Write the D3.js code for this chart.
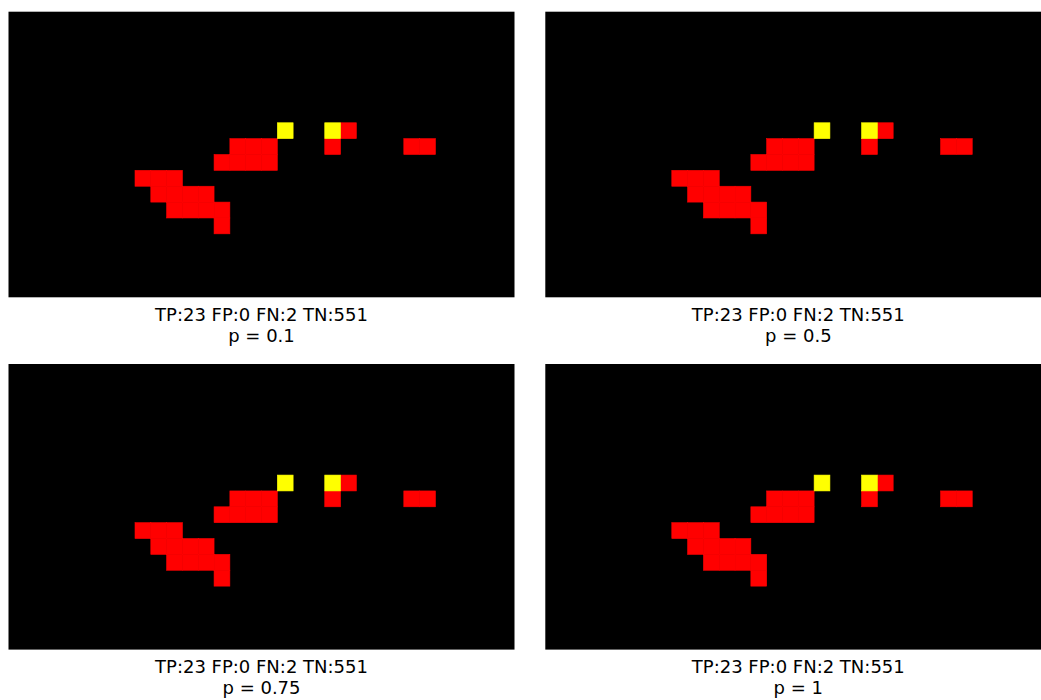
<!DOCTYPE html>
<html>
<head>
<meta charset="utf-8">
<script src="https://cdn.jsdelivr.net/npm/d3@7"></script>
<style>
  html, body { margin: 0; padding: 0; background: #ffffff; overflow: hidden; }
  svg { display: block; }
</style>
</head>
<body>
<script>
// ---- data ----
const nRows = 18;
const nCols = 32;
// true positives (red): [row, col]
const tpCells = [
  [7, 21],
  [8, 14], [8, 15], [8, 16], [8, 20], [8, 25], [8, 26],
  [9, 13], [9, 14], [9, 15], [9, 16],
  [10, 8], [10, 9], [10, 10],
  [11, 9], [11, 10], [11, 11], [11, 12],
  [12, 10], [12, 11], [12, 12], [12, 13],
  [13, 13]
];
// false negatives (yellow)
const fnCells = [[7, 17], [7, 20]];
// false positives (none)
const fpCells = [];
const pLabels = ["p = 0.1", "p = 0.5", "p = 0.75", "p = 1"];
const countsTP = [23, 23, 23, 23];
const countsFP = [0, 0, 0, 0];
const countsFN = [2, 2, 2, 2];
const countsTN = [551, 551, 551, 551];

const classColors = { TN: "#000000", TP: "#ff0000", FN: "#ffff00", FP: "#0000ff" };

// ---- layout ----
const W = 1041, H = 700;
const panelW = 506, panelH = 285.6;
const colX = [8.5, 545.3];
const rowY = [11.7, 364];

const svg = d3.select("body").append("svg").attr("width", W).attr("height", H);

// build grid from cell lists
const grid = [];
for (let r = 0; r < nRows; r++) {
  for (let c = 0; c < nCols; c++) grid.push({ r, c, k: "TN" });
}
tpCells.forEach(([r, c]) => grid[r * nCols + c].k = "TP");
fnCells.forEach(([r, c]) => grid[r * nCols + c].k = "FN");
fpCells.forEach(([r, c]) => grid[r * nCols + c].k = "FP");

const x = d3.scaleBand().domain(d3.range(nCols)).range([0, panelW]).paddingInner(0).paddingOuter(0);
const y = d3.scaleBand().domain(d3.range(nRows)).range([0, panelH]).paddingInner(0).paddingOuter(0);

pLabels.forEach((lab, i) => {
  const gx = colX[i % 2], gy = rowY[Math.floor(i / 2)];
  const g = svg.append("g").attr("transform", `translate(${gx},${gy})`);
  g.append("rect").attr("width", panelW).attr("height", panelH).attr("fill", "#000");
  // draw FN last so yellow sits on top of neighbouring red strokes
  const cells = grid.filter(d => d.k !== "TN").sort((a, b) => (a.k === "FN") - (b.k === "FN"));
  g.selectAll("rect.cell").data(cells).enter().append("rect")
    .attr("class", "cell")
    .attr("x", d => x(d.c)).attr("y", d => y(d.r))
    .attr("width", x.bandwidth()).attr("height", y.bandwidth())
    .attr("fill", d => classColors[d.k])
    .attr("stroke", d => classColors[d.k])
    .attr("stroke-width", 0.6);
  const t = g.append("text")
    .attr("x", panelW / 2)
    .attr("text-anchor", "middle")
    .attr("font-family", "DejaVu Sans")
    .attr("font-size", "18px")
    .attr("fill", "#000");
  t.append("tspan").attr("x", panelW / 2).attr("y", panelH + 23.5)
    .text(`TP:${countsTP[i]} FP:${countsFP[i]} FN:${countsFN[i]} TN:${countsTN[i]}`);
  t.append("tspan").attr("x", panelW / 2).attr("y", panelH + 44.5).text(lab);
});
</script>
</body>
</html>
